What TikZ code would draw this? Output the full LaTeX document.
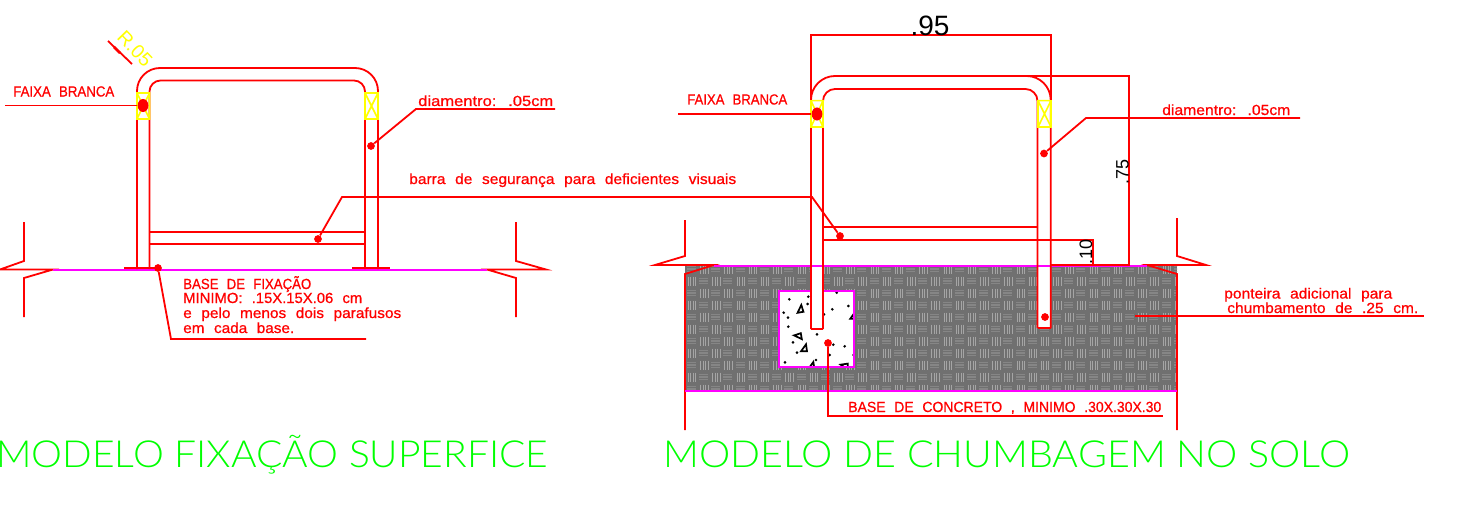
\documentclass[tikz,border=0pt]{standalone}
\usepackage{fontspec}
\usepackage{graphicx}
\setmainfont{Liberation Sans}
\newfontfamily\thinfont{Lato Light}
\newfontfamily\boldish[FakeBold=0.7]{Liberation Sans}
\definecolor{cadred}{RGB}{255,0,0}
\definecolor{cadmag}{RGB}{255,0,255}
\definecolor{cadgreen}{RGB}{0,255,0}
\definecolor{cadyel}{RGB}{255,255,0}
\definecolor{hbase}{RGB}{112,112,112}
\definecolor{hlightv}{RGB}{165,165,165}
\definecolor{hlighth}{RGB}{134,134,134}
\newdimen\pxu \pxu=0.75pt
\newcommand{\lbl}[6][]{\node[inner sep=0pt,anchor=base west,#1] (#2) at (#3,#4) {\resizebox{#5\pxu}{\height}{\spaceskip=0.62em\relax #6}};}
\newcommand{\ttl}[5][]{\node[inner sep=0pt,anchor=base west,#1] (#2) at (#3,467) {\resizebox{#4\pxu}{\height}{#5}};}
\tikzset{
  redline/.style={draw=cadred,line width=1.35pt},
  magline/.style={draw=cadmag,line width=1.4pt},
  yelline/.style={draw=cadyel,line width=1.2pt},
  reddot/.style={circle,fill=cadred,inner sep=0pt,minimum size=5.8pt},
  bigdot/.style={ellipse,fill=cadred,inner sep=0pt,minimum width=8pt,minimum height=9.8pt},
  redtext/.style={text=cadred,font=\boldish\fontsize{11}{13}\selectfont},
  greentext/.style={text=cadgreen,font=\thinfont\fontsize{28}{32}\selectfont},
  blktext/.style={text=black},
  speck/.style={circle,fill=black,inner sep=0pt,minimum size=2.2pt},
  tri/.style={draw=black,line width=1.3pt,fill=white,line join=miter}
}
\usetikzlibrary{shapes.geometric}
\begin{document}
\begin{tikzpicture}[x=0.75pt,y=-0.75pt]
\useasboundingbox[fill=white] (0,0) rectangle (1464,517);

% --- Left figure ---
\draw[redline] (24,222) -- (24,261) -- (0,269.5) -- (53,269.5) -- (24,278) -- (24,317);
\draw[redline] (516,222) -- (516,261) -- (546,269.5) -- (487,269.5) -- (516,278) -- (516,317);
\draw[magline] (53,269.7) -- (487,269.7);
\draw[redline,rounded corners=17.25pt] (137,269) -- (137,68) -- (378,68) -- (378,269);
\draw[redline,rounded corners=8.25pt] (149.5,269) -- (149.5,80.5) -- (365,80.5) -- (365,269);
\draw[redline] (149.5,232) -- (365,232) (149.5,244) -- (365,244);
\draw[redline,line width=1.7pt] (124,268) -- (158,268) (352,268) -- (390,268);
\draw[yelline] (137,93) rectangle (149.5,119) (137,93) -- (149.5,119) (149.5,93) -- (137,119);
\draw[yelline] (365,93) rectangle (378,119) (365,93) -- (378,119) (378,93) -- (365,119);
\node[bigdot] (dotA) at (143,105.5) {};
\coordinate (leadA) at (5,105.5);
\draw[redline] (leadA) -- (dotA);
\lbl[redtext]{tA}{13}{96.5}{101}{FAIXA BRANCA}

\coordinate (rA) at (108,41); \coordinate (rB) at (132,64);
\draw[redline] (rA) -- (rB);
\draw[redline,line width=2pt] (114,47) -- (120,53);
\node[text=cadyel,font=\fontsize{14.5}{16}\selectfont,rotate=-46,inner sep=0pt] (tR) at (135,49) {R.05};

\node[reddot] (dotB) at (371,146) {};
\coordinate (kB) at (416,109); \coordinate (eB) at (555,109);
\draw[redline] (dotB) -- (kB) -- (eB);
\lbl[redtext]{tB}{418}{106}{135}{diamentro: .05cm}

\node[reddot] (dotC) at (318,239) {};
\node[reddot] (dotC2) at (840,236) {};
\coordinate (kC) at (342,197); \coordinate (kC2) at (812,197);
\draw[redline] (dotC) -- (kC) -- (kC2) -- (dotC2);
\lbl[redtext]{tC}{409}{184}{327}{barra de segurança para deficientes visuais}

\node[reddot] (dotD) at (158,268) {};
\coordinate (kD) at (171,339); \coordinate (eD) at (366,339);
\draw[redline] (dotD) -- (kD) -- (eD);
\lbl[redtext]{tD1}{183}{289}{128}{BASE DE FIXAÇÃO}
\lbl[redtext]{tD2}{183}{303}{179}{MINIMO: .15X.15X.06 cm}
\lbl[redtext]{tD3}{183}{318}{218}{e pelo menos dois parafusos}
\lbl[redtext]{tD4}{183}{333}{111}{em cada base.}

\ttl[greentext]{tT1}{-4}{552}{MODELO FIXAÇÃO SUPERFICE}
\ttl[greentext]{tT2}{663}{687}{MODELO DE CHUMBAGEM NO SOLO}

% --- Right figure: ground hatch ---
\begin{scope}
\clip (685,266) rectangle (1177,391);
\fill[hbase] (685,266) rectangle (1177,391);
\foreach \i in {0,...,41} {
  \foreach \j in {0,...,10} {
    \pgfmathsetmacro{\xx}{673.3+\i*12.17}
    \pgfmathsetmacro{\yy}{263+\j*12}
    \pgfmathtruncatemacro{\pp}{mod(\i+\j,2)}
    \ifnum\pp=0
      \foreach \d in {3,5.5,8,10.5}
        \draw[hlightv,line width=0.75pt] (\xx+\d,\yy+1.5) -- (\xx+\d,\yy+10.5);
    \else
      \foreach \d in {3.5,6,8.5}
        \draw[hlighth,line width=1.3pt] (\xx+1.5,\yy+\d) -- (\xx+10.5,\yy+\d);
    \fi
  }
}
\end{scope}
\draw[redline] (685,220) -- (685,256) -- (655,265) -- (714,265) -- (685,274) -- (685,430);
\draw[redline] (1177,218) -- (1177,256) -- (1206,265) -- (1147,265) -- (1177,274) -- (1177,430);

% concrete
\fill[white] (779,291) rectangle (854,367);
\begin{scope}
\clip (779,291) rectangle (854,367);
\foreach \zx/\zy in {418/238,475/230,473/252,560/218,401/278,414/293,415/320,522/283,547/268,595/258,501/343,429/367,441/398,550/374,584/379,498/420,405/427,539/405,611/405}
  \node[speck] at ({650+\zx/3},{220+\zy/3}) {};
\foreach \zx/\zy/\r in {450/268/10,445/350/100,462/385/0,610/287/0,484/438/0,584/440/90}
  \draw[tri,rotate around={\r:({650+\zx/3},{220+\zy/3})}] ({650+\zx/3-3},{220+\zy/3+3}) -- ({650+\zx/3+3},{220+\zy/3+3}) -- ({650+\zx/3+2},{220+\zy/3-4}) -- cycle;
\end{scope}
\draw[magline] (779,291) rectangle (854,367);

% rails
\fill[white] (811,262) rectangle (823,329);
\fill[white] (1037.5,262) rectangle (1050.7,328);
\draw[magline] (714,265.7) -- (1147,265.7);
\draw[redline] (1050.7,265) -- (1129,265);
\draw[magline] (685,391) -- (1177,391);
\draw[redline,rounded corners=18pt] (811,329) -- (811,76) -- (1050.7,76) -- (1050.7,328);
\draw[redline,rounded corners=9pt] (823,329) -- (823,89) -- (1037.5,89) -- (1037.5,328);
\draw[redline] (811,329) -- (823,329) (1037.5,328) -- (1050.7,328);
\draw[redline] (823,227) -- (1037.5,227) (823,240) -- (1093,240) -- (1093,265);
\draw[yelline] (811,100.7) rectangle (823,127) (811,100.7) -- (823,127) (823,100.7) -- (811,127);
\draw[yelline] (1038,100.7) rectangle (1051,127) (1038,100.7) -- (1051,127) (1051,100.7) -- (1038,127);

% dimensions
\coordinate (d1) at (811,100); \coordinate (d2) at (811,35); \coordinate (d3) at (1051,35); \coordinate (d4) at (1051,100);
\draw[redline] (d1) -- (d2) -- (d3) -- (d4);
\coordinate (e1) at (1026,76); \coordinate (e2) at (1129,76); \coordinate (e3) at (1129,266);
\draw[redline] (e1) -- (e2) -- (e3);
\node[blktext,inner sep=0pt,anchor=base,font=\fontsize{21}{23}\selectfont] (t95) at (930,36) {.95};
\node[blktext,inner sep=0pt,anchor=base,rotate=90,font=\fontsize{13.5}{15}\selectfont] (t75) at (1128.5,171.5) {.75};
\node[blktext,inner sep=0pt,anchor=base,rotate=90,font=\fontsize{13.5}{15}\selectfont] (t10) at (1092,252) {.10};

% leaders
\node[bigdot] (dotE) at (817,114) {};
\coordinate (leadE) at (678,114);
\draw[redline] (leadE) -- (dotE);
\lbl[redtext]{tE}{687}{104.5}{100}{FAIXA BRANCA}

\node[reddot] (dotF) at (1044,153.5) {};
\coordinate (kF) at (1086,118); \coordinate (eF) at (1300,118);
\draw[redline] (dotF) -- (kF) -- (eF);
\lbl[redtext]{tF}{1162}{115}{128}{diamentro: .05cm}

\node[reddot] (dotG) at (1045,317) {};
\node[reddot] (dotH) at (828,343) {};
\coordinate (kH) at (828,416); \coordinate (eH) at (1163,416);
\draw[redline] (dotH) -- (kH) -- (eH);
\lbl[redtext]{tH}{848}{412}{313}{BASE DE CONCRETO , MINIMO .30X.30X.30}

\coordinate (sI) at (1135,316); \coordinate (eI) at (1424,316);
\draw[redline] (sI) -- (eI);
\lbl[redtext]{tI1}{1224}{298.5}{168}{ponteira adicional para}
\lbl[redtext]{tI2}{1227}{313}{191}{chumbamento de .25 cm.}
\end{tikzpicture}
\end{document}
